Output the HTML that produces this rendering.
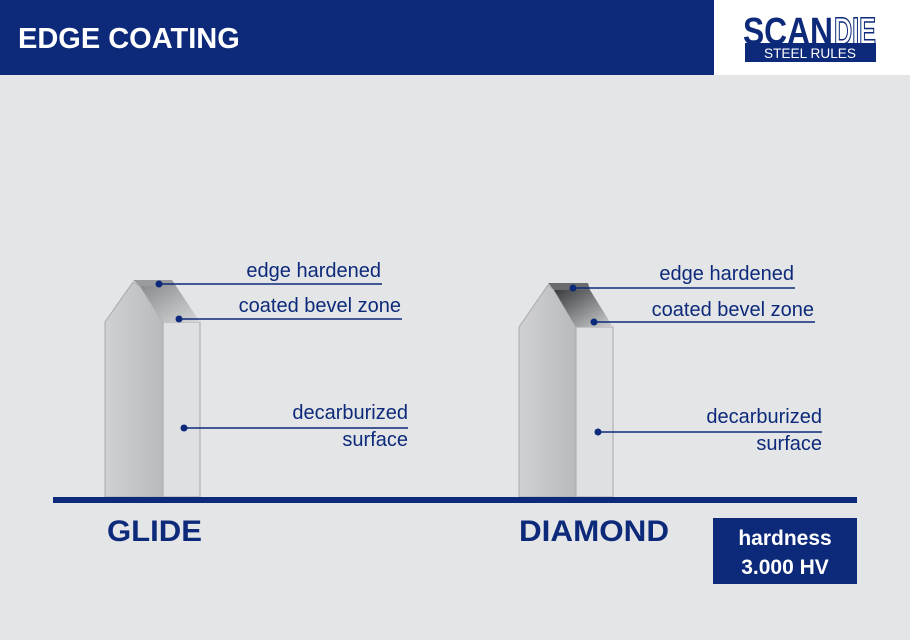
<!DOCTYPE html>
<html><head><style>
body{margin:0;width:910px;height:640px;overflow:hidden;background:#e4e5e7;font-family:"Liberation Sans",Arial,sans-serif;}
</style></head><body>
<svg width="910" height="640" xmlns="http://www.w3.org/2000/svg" style="position:absolute;left:0;top:0">
<defs>
<linearGradient id="lf" x1="0" x2="1"><stop offset="0" stop-color="#d0d1d3"/><stop offset="1" stop-color="#b9babc"/></linearGradient>
<linearGradient id="bv1" x1="0" y1="0" x2="1" y2="1"><stop offset="0" stop-color="#8a8b8d"/><stop offset="1" stop-color="#d6d7d9"/></linearGradient>
<linearGradient id="bv2" x1="0" y1="0" x2="1" y2="1"><stop offset="0" stop-color="#3a3b3d"/><stop offset="1" stop-color="#d0d1d3"/></linearGradient>
</defs>
<rect x="0" y="0" width="714" height="75" fill="#0d2a7a"/>
<rect x="714" y="0" width="196" height="75" fill="#ffffff"/>
<text x="18" y="48" font-size="29" font-weight="bold" fill="#fff">EDGE COATING</text>
<g transform="translate(0,44) scale(1,1.35)">
<text x="743" y="0" font-size="28" font-weight="bold" fill="#0d2a7a" textLength="90" lengthAdjust="spacingAndGlyphs">SCAN</text>
<text x="834" y="0" font-size="28" font-weight="bold" fill="#fff" stroke="#0d2a7a" stroke-width="1.1" textLength="42" lengthAdjust="spacingAndGlyphs">DIE</text>
</g>
<rect x="745" y="43" width="131" height="19" fill="#0d2a7a"/>
<text x="810" y="58" font-size="14" fill="#fff" text-anchor="middle" textLength="92" lengthAdjust="spacingAndGlyphs">STEEL RULES</text>

<!-- Glide -->
<polygon points="105,322 133,282 140,286 163,322 163,497 105,497" fill="url(#lf)" stroke="#a8a9ab" stroke-width="1"/>
<rect x="163" y="322" width="37" height="175" fill="#dfe0e2" stroke="#a8a9ab" stroke-width="1"/>
<polygon points="140,286 176,286 200,322 163,322" fill="url(#bv1)"/>
<polygon points="133,280 172,280 176,286 140,286" fill="#9a9b9d"/>
<!-- Diamond -->
<polygon points="519,327 548,285 554,290 576,327 576,497 519,497" fill="url(#lf)" stroke="#a8a9ab" stroke-width="1"/>
<rect x="576" y="327" width="37" height="170" fill="#dfe0e2" stroke="#a8a9ab" stroke-width="1"/>
<polygon points="554,290 590,290 613,327 576,327" fill="url(#bv2)"/>
<polygon points="548,283 588,283 590,290 554,290" fill="#6a6b6d"/>

<rect x="53" y="497" width="804" height="6" fill="#0d2a7a"/>

<g fill="#0d2a7a" stroke="none">
<circle cx="159" cy="284" r="3.5"/><circle cx="179" cy="319" r="3.5"/><circle cx="184" cy="428" r="3.5"/>
<circle cx="573" cy="288" r="3.5"/><circle cx="594" cy="322" r="3.5"/><circle cx="598" cy="432" r="3.5"/>
</g>
<g stroke="#0d2a7a" stroke-width="1.5">
<line x1="159" y1="284" x2="382" y2="284"/><line x1="179" y1="319" x2="402" y2="319"/><line x1="184" y1="428" x2="408" y2="428"/>
<line x1="573" y1="288" x2="795" y2="288"/><line x1="594" y1="322" x2="815" y2="322"/><line x1="598" y1="432" x2="822" y2="432"/>
</g>
<g fill="#0d2a7a" font-size="20" text-anchor="end">
<text x="381" y="277">edge hardened</text>
<text x="401" y="312">coated bevel zone</text>
<text x="408" y="419">decarburized</text>
<text x="408" y="446">surface</text>
<text x="794" y="280">edge hardened</text>
<text x="814" y="316">coated bevel zone</text>
<text x="822" y="423">decarburized</text>
<text x="822" y="450">surface</text>
</g>
<text x="107" y="541" font-size="30" font-weight="bold" fill="#0d2a7a" textLength="95" lengthAdjust="spacingAndGlyphs">GLIDE</text>
<text x="519" y="541" font-size="30" font-weight="bold" fill="#0d2a7a" textLength="150" lengthAdjust="spacingAndGlyphs">DIAMOND</text>
<rect x="713" y="518" width="144" height="66" fill="#0d2a7a"/>
<text x="785" y="545" font-size="21" font-weight="bold" fill="#fff" text-anchor="middle">hardness</text>
<text x="785" y="574" font-size="21" font-weight="bold" fill="#fff" text-anchor="middle">3.000 HV</text>
</svg>
</body></html>
